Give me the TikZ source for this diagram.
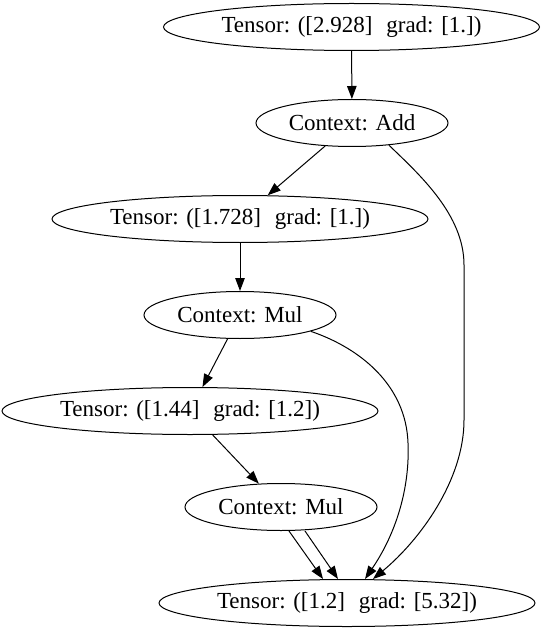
\documentclass[tikz,border=0pt]{standalone}
\usepackage{fontspec}
\setmainfont{Liberation Serif}
\usetikzlibrary{shapes.geometric,arrows.meta}

\newcommand{\gradgap}{\hspace{0.6em}}

\begin{document}
\begin{tikzpicture}[x=1pt, y=-1pt, line width=1pt,
    >={Triangle[length=13pt,width=9.5pt]},
    blob/.style={draw, ellipse, inner sep=0pt, minimum height=47pt,
      font=\fontsize{23}{27}\selectfont},
    tensor/.style={blob, minimum width=376pt},
    ctx/.style={blob, minimum width=192pt}]
  \useasboundingbox (0,0) rectangle (540,628);
  \node[tensor] (t1) at (351.5,27) {Tensor: ([2.928]\gradgap grad: [1.])};
  \node[ctx] (add) at (352,123) {Context: Add};
  \node[tensor] (t2) at (240,219) {Tensor: ([1.728]\gradgap grad: [1.])};
  \node[ctx] (mul1) at (240,315) {Context: Mul};
  \node[tensor] (t3) at (190,411) {Tensor: ([1.44]\gradgap grad: [1.2])};
  \node[ctx] (mul2) at (281,507) {Context: Mul};
  \node[tensor] (t4) at (347,603) {Tensor: ([1.2]\gradgap grad: [5.32])};
  % straight edges
  \draw[->] (t1) -- (add);
  \draw[->] (add) -- (t2);
  \draw[->] (t2) -- (mul1);
  \draw[->] (mul1) -- (t3);
  \draw[->] (t3) -- (mul2);
  \draw[->] ([xshift=8pt]mul2.south) -- ([xshift=-24pt]t4.north);
  \draw[->] ([xshift=24pt]mul2.south) -- ([xshift=-9pt]t4.north);
  % long edges
  \draw[->] (mul1.-13) .. controls (360,348) and (406,385) .. (408,443)
    .. controls (410,490) and (395,535) .. ([xshift=18pt]t4.north);
  \draw[->] (add.-31) .. controls (420,175) and (464,215) .. (464,265)
    -- (464,420) .. controls (464,480) and (420,540) .. ([xshift=26pt]t4.north);
\end{tikzpicture}
\end{document}
